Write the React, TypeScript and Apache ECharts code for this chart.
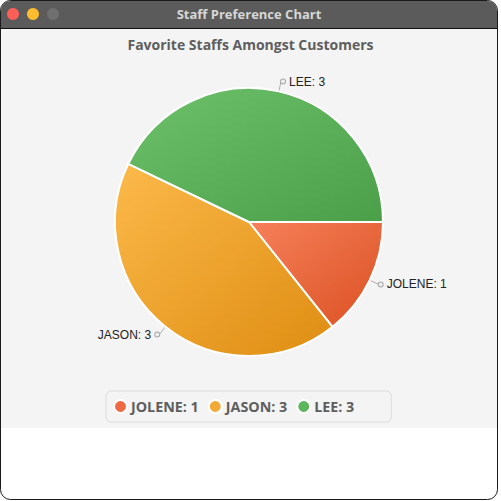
import React, { useEffect, useRef } from "react";
import * as echarts from "echarts";

const categories = ["JOLENE", "JASON", "LEE"];
const values = [1, 3, 3];
const colorStops = [
  ["#f6805a", "#db5022"],
  ["#fcb94a", "#de8d12"],
  ["#6dc16b", "#4a9f48"],
];
const legendColors = ["#ee6a45", "#f3a937", "#5db65c"];

export default function App() {
  const ref = useRef<HTMLDivElement>(null);
  useEffect(() => {
    const chart = echarts.init(ref.current!, undefined, { renderer: "svg" });
    const grad = (i: number) =>
      new echarts.graphic.LinearGradient(0, 0, 1, 1, [
        { offset: 0, color: colorStops[i][0] },
        { offset: 1, color: colorStops[i][1] },
      ]);
    const data = categories.map((c, i) => ({
      name: c,
      value: values[i],
      itemStyle: { color: grad(i) },
    }));
    const option: any = {
      animation: false,
      title: {
        text: "Favorite Staffs Amongst Customers",
        left: "center",
        top: 32,
        textStyle: {
          fontFamily: "Open Sans",
          fontWeight: "bold",
          fontSize: 14,
          color: "#5e5e5e",
        },
      },
      legend: {
        bottom: 79,
        left: 106,
        icon: "circle",
        itemWidth: 13,
        itemHeight: 13,
        itemGap: 9,
        padding: [8, 37, 8, 7],
        borderColor: "#dcdcdc",
        borderWidth: 1,
        borderRadius: 5,
        backgroundColor: "#f4f4f4",
        data: categories.map((c, i) => ({
          name: c,
          itemStyle: { color: legendColors[i] },
        })),
        formatter: (name: string) => `${name}: ${values[categories.indexOf(name)]}`,
        textStyle: {
          fontFamily: "Open Sans",
          fontWeight: "bold",
          fontSize: 14.3,
          color: "#5e5e5e",
          padding: [0, 0, 0, -1],
        },
      },
      graphic: [
        {
          type: "rect",
          z: -10,
          shape: { x: 0.5, y: 0.5, width: 497, height: 499, r: 10 },
          style: { fill: "#ffffff", stroke: "#1a1a1a", lineWidth: 1 },
        },
        {
          type: "rect",
          z: -9,
          shape: { x: 1, y: 29, width: 496, height: 399 },
          style: { fill: "#f4f4f4" },
        },
        {
          type: "rect",
          z: -9,
          shape: { x: 1, y: 1, width: 496, height: 27, r: [9, 9, 0, 0] },
          style: { fill: "#5b5b5b" },
        },
        {
          type: "line",
          z: -8,
          shape: { x1: 0, y1: 28.5, x2: 498, y2: 28.5 },
          style: { stroke: "#111", lineWidth: 1 },
        },
        { type: "circle", z: -8, shape: { cx: 13, cy: 14, r: 6 }, style: { fill: "#fe5f57" } },
        { type: "circle", z: -8, shape: { cx: 33, cy: 14, r: 6 }, style: { fill: "#febc2e" } },
        { type: "circle", z: -8, shape: { cx: 53, cy: 14, r: 6 }, style: { fill: "#707070" } },
        {
          type: "text",
          z: -8,
          x: 249,
          y: 14,
          style: {
            text: "Staff Preference Chart",
            fill: "#d6d6d6",
            font: "bold 13px 'Open Sans'",
            align: "center",
            verticalAlign: "middle",
          },
        },
      ],
      series: [
        {
          type: "pie",
          center: [249, 222],
          radius: 134,
          startAngle: 0,
          clockwise: true,
          data,
          itemStyle: { borderColor: "#ffffff", borderWidth: 2 },
          emphasis: { disabled: true },
          label: {
            show: true,
            position: "outside",
            distanceToLabelLine: 0,
            formatter: (p: any) =>
              p.dataIndex === 1
                ? `{t|${p.name}: ${p.value}}{dot|}`
                : `{dot|}{t|${p.name}: ${p.value}}`,
            rich: {
              t: {
                fontFamily: "Liberation Sans",
                fontSize: 12,
                color: "#222",
                padding: [0, 4, 0, 4],
              },
              dot: {
                width: 4,
                height: 4,
                borderRadius: 3,
                borderColor: "#a8a8a8",
                borderWidth: 1,
                backgroundColor: "#eeeeee",
              },
            },
          },
          labelLine: {
            show: true,
            length: 10,
            length2: 0,
            lineStyle: { color: "#b0b0b0", width: 1 },
          },
        },
      ],
    };
    chart.setOption(option);
    return () => chart.dispose();
  }, []);
  return (
    <div
      ref={ref}
      style={{ position: "absolute", left: 0, top: 0, width: 501, height: 501 }}
    />
  );
}
